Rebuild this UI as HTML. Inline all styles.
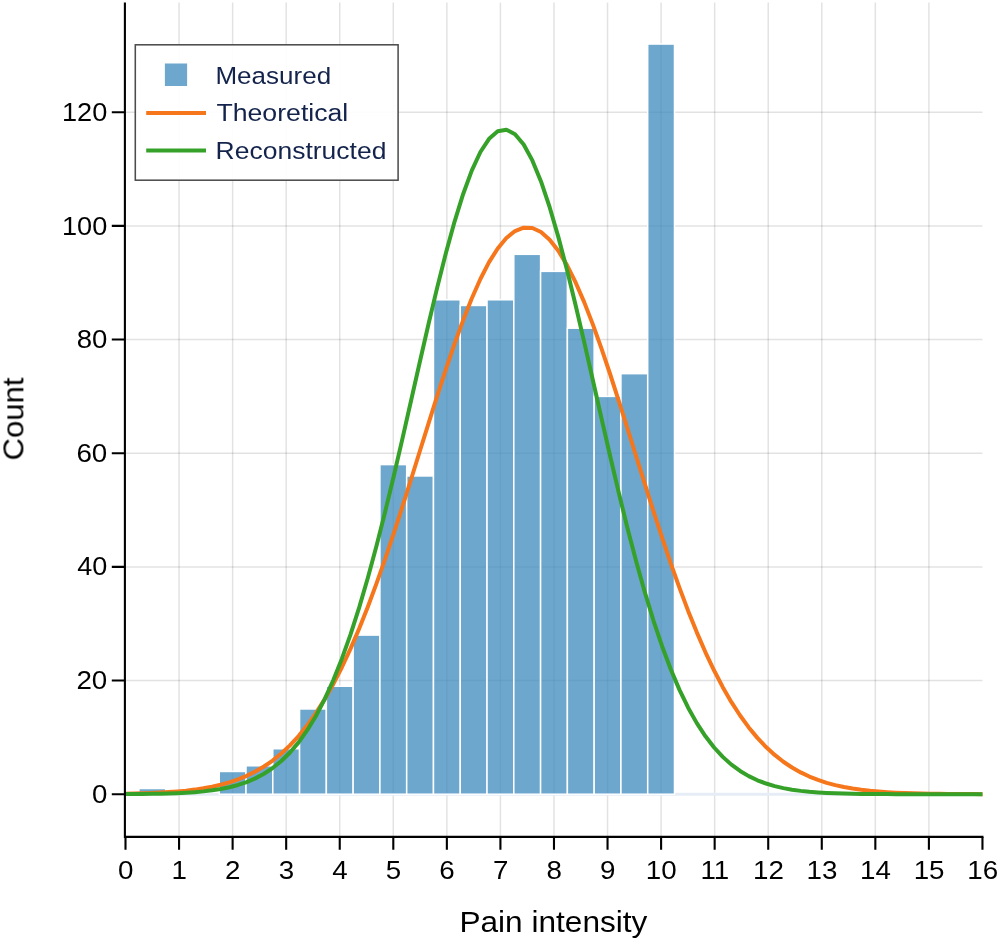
<!DOCTYPE html><html><head><meta charset="utf-8"><style>html,body{margin:0;padding:0;background:#fff}svg{display:block}text{font-family:"Liberation Sans",sans-serif}</style></head><body>
<svg width="1000" height="941" viewBox="0 0 1000 941">
<rect width="1000" height="941" fill="#fff"/>
<path d="M179.06,2.5V836.9M232.62,2.5V836.9M286.18,2.5V836.9M339.74,2.5V836.9M393.30,2.5V836.9M446.86,2.5V836.9M500.42,2.5V836.9M553.98,2.5V836.9M607.54,2.5V836.9M661.10,2.5V836.9M714.66,2.5V836.9M768.22,2.5V836.9M821.78,2.5V836.9M875.34,2.5V836.9M928.90,2.5V836.9" stroke="#000" stroke-opacity="0.115" stroke-width="1.5" fill="none"/>
<path d="M125.5,680.54H982.46M125.5,566.88H982.46M125.5,453.22H982.46M125.5,339.56H982.46M125.5,225.90H982.46M125.5,112.24H982.46" stroke="#000" stroke-opacity="0.115" stroke-width="1.5" fill="none"/>
<path d="M125.5,794.2H982.46" stroke="#e6edf6" stroke-width="3" fill="none"/>
<rect x="138.89" y="788.52" width="26.78" height="5.68" fill="#3d89be" fill-opacity="0.75" stroke="#fff" stroke-width="1.5"/>
<rect x="219.23" y="771.47" width="26.78" height="22.73" fill="#3d89be" fill-opacity="0.75" stroke="#fff" stroke-width="1.5"/>
<rect x="246.01" y="765.79" width="26.78" height="28.41" fill="#3d89be" fill-opacity="0.75" stroke="#fff" stroke-width="1.5"/>
<rect x="272.79" y="748.74" width="26.78" height="45.46" fill="#3d89be" fill-opacity="0.75" stroke="#fff" stroke-width="1.5"/>
<rect x="299.57" y="708.96" width="26.78" height="85.25" fill="#3d89be" fill-opacity="0.75" stroke="#fff" stroke-width="1.5"/>
<rect x="326.35" y="686.22" width="26.78" height="107.98" fill="#3d89be" fill-opacity="0.75" stroke="#fff" stroke-width="1.5"/>
<rect x="353.13" y="635.08" width="26.78" height="159.12" fill="#3d89be" fill-opacity="0.75" stroke="#fff" stroke-width="1.5"/>
<rect x="379.91" y="464.59" width="26.78" height="329.61" fill="#3d89be" fill-opacity="0.75" stroke="#fff" stroke-width="1.5"/>
<rect x="406.69" y="475.95" width="26.78" height="318.25" fill="#3d89be" fill-opacity="0.75" stroke="#fff" stroke-width="1.5"/>
<rect x="433.47" y="299.78" width="26.78" height="494.42" fill="#3d89be" fill-opacity="0.75" stroke="#fff" stroke-width="1.5"/>
<rect x="460.25" y="305.46" width="26.78" height="488.74" fill="#3d89be" fill-opacity="0.75" stroke="#fff" stroke-width="1.5"/>
<rect x="487.03" y="299.78" width="26.78" height="494.42" fill="#3d89be" fill-opacity="0.75" stroke="#fff" stroke-width="1.5"/>
<rect x="513.81" y="254.32" width="26.78" height="539.88" fill="#3d89be" fill-opacity="0.75" stroke="#fff" stroke-width="1.5"/>
<rect x="540.59" y="271.36" width="26.78" height="522.84" fill="#3d89be" fill-opacity="0.75" stroke="#fff" stroke-width="1.5"/>
<rect x="567.37" y="328.19" width="26.78" height="466.01" fill="#3d89be" fill-opacity="0.75" stroke="#fff" stroke-width="1.5"/>
<rect x="594.15" y="396.39" width="26.78" height="397.81" fill="#3d89be" fill-opacity="0.75" stroke="#fff" stroke-width="1.5"/>
<rect x="620.93" y="373.66" width="26.78" height="420.54" fill="#3d89be" fill-opacity="0.75" stroke="#fff" stroke-width="1.5"/>
<rect x="647.71" y="44.04" width="26.78" height="750.16" fill="#3d89be" fill-opacity="0.75" stroke="#fff" stroke-width="1.5"/>
<polyline points="125.50,793.70 134.16,793.52 142.81,793.29 151.47,792.99 160.12,792.60 168.78,792.10 177.44,791.46 186.09,790.64 194.75,789.61 203.41,788.32 212.06,786.72 220.72,784.74 229.37,782.32 238.03,779.37 246.69,775.82 255.34,771.56 264.00,766.50 272.65,760.53 281.31,753.53 289.97,745.40 298.62,736.03 307.28,725.31 315.94,713.14 324.59,699.44 333.25,684.15 341.90,667.23 350.56,648.66 359.22,628.46 367.87,606.68 376.53,583.42 385.18,558.81 393.84,533.05 402.50,506.35 411.15,478.99 419.81,451.27 428.47,423.55 437.12,396.19 445.78,369.59 454.43,344.16 463.09,320.32 471.75,298.46 480.40,278.97 489.06,262.19 497.71,248.45 506.37,237.99 515.03,231.03 523.68,227.68 532.34,228.03 541.00,232.06 549.65,239.69 558.31,250.78 566.96,265.12 575.62,282.43 584.28,302.39 592.93,324.65 601.59,348.82 610.25,374.50 618.90,401.27 627.56,428.73 636.21,456.48 644.87,484.16 653.53,511.42 662.18,537.96 670.84,563.52 679.49,587.88 688.15,610.88 696.81,632.37 705.46,652.27 714.12,670.53 722.78,687.14 731.43,702.13 740.09,715.53 748.74,727.42 757.40,737.88 766.06,747.02 774.71,754.92 783.37,761.72 792.02,767.51 800.68,772.42 809.34,776.54 817.99,779.97 826.65,782.81 835.31,785.14 843.96,787.04 852.62,788.58 861.27,789.82 869.93,790.81 878.59,791.59 887.24,792.20 895.90,792.68 904.55,793.06 913.21,793.34 921.87,793.56 930.52,793.73 939.18,793.85 947.84,793.95 956.49,794.02 965.15,794.07 973.80,794.10 982.46,794.13" fill="none" stroke="#f5761b" stroke-width="4" stroke-linejoin="round"/>
<polyline points="125.50,794.08 134.16,794.03 142.81,793.95 151.47,793.83 160.12,793.67 168.78,793.45 177.44,793.14 186.09,792.72 194.75,792.14 203.41,791.37 212.06,790.35 220.72,788.99 229.37,787.23 238.03,784.96 246.69,782.05 255.34,778.37 264.00,773.76 272.65,768.05 281.31,761.05 289.97,752.55 298.62,742.34 307.28,730.21 315.94,715.95 324.59,699.38 333.25,680.32 341.90,658.67 350.56,634.36 359.22,607.38 367.87,577.81 376.53,545.81 385.18,511.65 393.84,475.68 402.50,438.36 411.15,400.25 419.81,361.98 428.47,324.26 437.12,287.84 445.78,253.51 454.43,222.05 463.09,194.20 471.75,170.66 480.40,152.03 489.06,138.79 497.71,131.30 506.37,129.75 515.03,134.19 523.68,144.50 532.34,160.40 541.00,181.48 549.65,207.19 558.31,236.87 566.96,269.82 575.62,305.26 584.28,342.40 592.93,380.48 601.59,418.76 610.25,456.56 618.90,493.29 627.56,528.43 636.21,561.59 644.87,592.44 653.53,620.77 662.18,646.46 670.84,669.48 679.49,689.86 688.15,707.70 696.81,723.13 705.46,736.34 714.12,747.51 722.78,756.87 731.43,764.62 740.09,770.97 748.74,776.12 757.40,780.26 766.06,783.54 774.71,786.13 783.37,788.14 792.02,789.69 800.68,790.88 809.34,791.77 817.99,792.44 826.65,792.94 835.31,793.30 843.96,793.57 852.62,793.76 861.27,793.89 869.93,793.99 878.59,794.06 887.24,794.10 895.90,794.14 904.55,794.16 913.21,794.17 921.87,794.18 930.52,794.19 939.18,794.19 947.84,794.20 956.49,794.20 965.15,794.20 973.80,794.20 982.46,794.20" fill="none" stroke="#35a129" stroke-width="4" stroke-linejoin="round"/>
<path d="M124.9,2.5V837.9M123.9,836.9H983.46" stroke="#000" stroke-width="2.1" fill="none"/>
<path d="M125.50,836.9V849.8M179.06,836.9V849.8M232.62,836.9V849.8M286.18,836.9V849.8M339.74,836.9V849.8M393.30,836.9V849.8M446.86,836.9V849.8M500.42,836.9V849.8M553.98,836.9V849.8M607.54,836.9V849.8M661.10,836.9V849.8M714.66,836.9V849.8M768.22,836.9V849.8M821.78,836.9V849.8M875.34,836.9V849.8M928.90,836.9V849.8M982.46,836.9V849.8M111.8,794.20H124.9M111.8,680.54H124.9M111.8,566.88H124.9M111.8,453.22H124.9M111.8,339.56H124.9M111.8,225.90H124.9M111.8,112.24H124.9" stroke="#000" stroke-width="2.1" fill="none"/>
<g opacity="0.999">
<text transform="translate(125.70,878.8) scale(1.11,1)" font-size="25" text-anchor="middle" fill="#000">0</text>
<text transform="translate(179.26,878.8) scale(1.11,1)" font-size="25" text-anchor="middle" fill="#000">1</text>
<text transform="translate(232.82,878.8) scale(1.11,1)" font-size="25" text-anchor="middle" fill="#000">2</text>
<text transform="translate(286.38,878.8) scale(1.11,1)" font-size="25" text-anchor="middle" fill="#000">3</text>
<text transform="translate(339.94,878.8) scale(1.11,1)" font-size="25" text-anchor="middle" fill="#000">4</text>
<text transform="translate(393.50,878.8) scale(1.11,1)" font-size="25" text-anchor="middle" fill="#000">5</text>
<text transform="translate(447.06,878.8) scale(1.11,1)" font-size="25" text-anchor="middle" fill="#000">6</text>
<text transform="translate(500.62,878.8) scale(1.11,1)" font-size="25" text-anchor="middle" fill="#000">7</text>
<text transform="translate(554.18,878.8) scale(1.11,1)" font-size="25" text-anchor="middle" fill="#000">8</text>
<text transform="translate(607.74,878.8) scale(1.11,1)" font-size="25" text-anchor="middle" fill="#000">9</text>
<text transform="translate(661.30,878.8) scale(1.11,1)" font-size="25" text-anchor="middle" fill="#000">10</text>
<text transform="translate(714.86,878.8) scale(1.11,1)" font-size="25" text-anchor="middle" fill="#000">11</text>
<text transform="translate(768.42,878.8) scale(1.11,1)" font-size="25" text-anchor="middle" fill="#000">12</text>
<text transform="translate(821.98,878.8) scale(1.11,1)" font-size="25" text-anchor="middle" fill="#000">13</text>
<text transform="translate(875.54,878.8) scale(1.11,1)" font-size="25" text-anchor="middle" fill="#000">14</text>
<text transform="translate(929.10,878.8) scale(1.11,1)" font-size="25" text-anchor="middle" fill="#000">15</text>
<text transform="translate(982.66,878.8) scale(1.11,1)" font-size="25" text-anchor="middle" fill="#000">16</text>
<text transform="translate(91.89,802.80) scale(1.1058,1)" font-size="25" fill="#000">0</text>
<text transform="translate(76.41,689.14) scale(1.1110,1)" font-size="25" fill="#000">20</text>
<text transform="translate(77.19,575.48) scale(1.0819,1)" font-size="25" fill="#000">40</text>
<text transform="translate(76.41,461.82) scale(1.1110,1)" font-size="25" fill="#000">60</text>
<text transform="translate(76.63,348.16) scale(1.1029,1)" font-size="25" fill="#000">80</text>
<text transform="translate(61.96,234.50) scale(1.0855,1)" font-size="25" fill="#000">100</text>
<text transform="translate(61.96,120.84) scale(1.0855,1)" font-size="25" fill="#000">120</text>
<text transform="translate(459.39,932.00) scale(1.0830,1)" font-size="29.2" fill="#000">Pain intensity</text>
<text transform="rotate(-90) translate(-460.45,23.40) scale(1.0485,1)" font-size="29.6" fill="#000">Count</text>
<rect x="135.3" y="44.8" width="262.8" height="135.4" fill="#fff" fill-opacity="0.92" stroke="#4d4d4d" stroke-width="1.55"/>
<rect x="164.9" y="63.5" width="22.2" height="22.5" fill="#3d89be" fill-opacity="0.75"/>
<path d="M146.2,113.1H206" stroke="#f5761b" stroke-width="4"/>
<path d="M146.2,150.6H206" stroke="#35a129" stroke-width="4"/>
<text transform="translate(215.45,83.60) scale(1.1169,1)" font-size="23.3" fill="#13234b">Measured</text>
<text transform="translate(216.40,121.20) scale(1.1451,1)" font-size="23.3" fill="#13234b">Theoretical</text>
<text transform="translate(215.61,158.90) scale(1.1372,1)" font-size="23.3" fill="#13234b">Reconstructed</text>
</g>
</svg></body></html>
